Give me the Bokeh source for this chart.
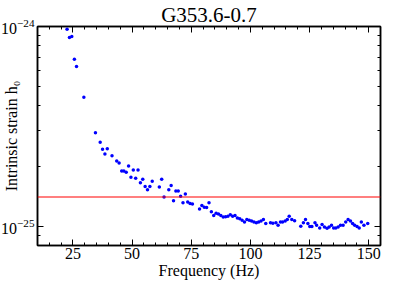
from bokeh.plotting import figure
from bokeh.models import (Span, LinearAxis, FixedTicker, SingleIntervalTicker,
                          LogTickFormatter, Range1d, CustomJSTickFormatter)
from bokeh.embed import file_html
from bokeh.resources import INLINE

title_text = "G353.6-0.7"
x_label = "Frequency (Hz)"
y_label = "Intrinsic strain h\u2080"

freq = [22.5, 23.5, 24.5, 25.6, 26.5, 29.6, 34.5, 36.5, 37.5, 38.5, 39.5, 41.5, 43.5, 44.5,
        45.6, 46.5, 47.5, 48.5, 49.5, 50.5, 51.5, 52.5, 53.5, 54.5, 55.5, 56.5, 57.5, 58.5,
        61.5, 62.5, 63.5, 65.5, 66.5, 67.5, 68.5, 69.5, 70.5, 71.5, 72.5, 73.5, 74.5, 75.5,
        78.5, 79.5, 80.5, 81.5, 82.5, 83.5, 84.5, 85.5, 86.5, 87.5, 88.5, 89.5, 90.5, 91.5,
        92.5, 93.5, 94.5, 95.5, 96.5, 97.5, 98.5, 99.5, 100.5, 101.5, 102.5, 103.5, 104.5,
        105.5, 106.5, 108.5, 109.5, 110.8, 111.7, 112.7, 113.6, 114.7, 115.6, 116.4, 117.5,
        118.7, 121.3, 122.4, 123.3, 124.3, 125.1, 126.0, 127.3, 128.0, 129.3, 130.3, 131.3,
        132.4, 133.3, 134.3, 135.2, 136.1, 137.1, 138.1, 139.2, 140.3, 141.3, 142.3, 143.2,
        144.1, 145.1, 146.0, 146.9, 148.0, 149.6]
strain_e25 = [9.7, 8.8, 8.9, 6.85, 6.3, 4.42, 2.94, 2.63, 2.43, 2.30, 2.44, 2.25, 2.12, 2.07,
              1.89, 1.89, 1.86, 2.00, 1.76, 1.91, 1.74, 1.91, 1.65, 1.72, 1.58, 1.52, 1.58, 1.68,
              1.57, 1.72, 1.40, 1.52, 1.60, 1.34, 1.50, 1.50, 1.41, 1.31, 1.45, 1.32, 1.30, 1.29,
              1.22, 1.27, 1.245, 1.24, 1.31, 1.18, 1.13, 1.16, 1.15, 1.13, 1.11, 1.115, 1.12, 1.14,
              1.12, 1.13, 1.10, 1.09, 1.07, 1.05, 1.08, 1.07, 1.06, 1.05, 1.04, 1.05, 1.06,
              1.08, 1.03, 1.04, 1.035, 1.04, 1.01, 1.05, 1.05, 1.06, 1.08, 1.12, 1.08,
              1.065, 1.00, 1.04, 1.08, 1.03, 0.995, 0.995, 1.04, 1.01, 0.98, 1.02, 0.99,
              0.975, 0.99, 1.01, 0.98, 0.98, 0.99, 1.01, 1.01, 1.05, 1.08, 1.06, 1.03,
              1.01, 0.995, 0.98, 1.05, 1.01, 1.03]
strain = [v * 1e-25 for v in strain_e25]
threshold = 1.4e-25

x_ticks_major = 25
y_major = [1e-25, 1e-24]
y_minor = [8e-26, 9e-26, 2e-25, 3e-25, 4e-25, 5e-25, 6e-25, 7e-25, 8e-25, 9e-25]

FONT = "Liberation Serif"

p = figure(width=383, height=281, output_backend="svg", toolbar_location=None,
           y_axis_type="log", x_range=Range1d(10, 155), y_range=Range1d(8e-26, 1e-24),
           min_border_left=34, min_border_right=3, min_border_top=0, min_border_bottom=0)
p.title.text = title_text
p.title.align = "center"
p.title.text_font = FONT
p.title.text_font_size = "21px"
p.title.text_font_style = "normal"
p.title.text_color = "black"
p.title.offset = 0
p.title.standoff = 0
p.xgrid.visible = False
p.ygrid.visible = False
p.outline_line_color = "black"
p.outline_line_width = 1.5

xt = SingleIntervalTicker(interval=x_ticks_major, num_minor_ticks=5)
yt = FixedTicker(ticks=y_major, minor_ticks=y_minor)

def style(ax):
    ax.axis_line_color = "black"
    ax.axis_line_width = 1.5
    ax.major_tick_in = 6
    ax.major_tick_out = 0
    ax.minor_tick_in = 3
    ax.minor_tick_out = 0
    ax.major_tick_line_color = "black"
    ax.minor_tick_line_color = "black"
    ax.major_label_text_font = FONT
    ax.major_label_text_font_size = "16px"
    ax.major_label_text_color = "black"
    ax.axis_label_text_font = FONT
    ax.axis_label_text_font_size = "16px"
    ax.axis_label_text_font_style = "normal"
    ax.axis_label_text_color = "black"

xa = p.xaxis[0]
xa.ticker = xt
xa.axis_label = x_label
xa.major_label_standoff = 2
xa.axis_label_standoff = 0
style(xa)

ya = p.yaxis[0]
ya.ticker = yt
ya.formatter = LogTickFormatter()
ya.axis_label = y_label
ya.major_label_standoff = 3
ya.axis_label_standoff = -22
style(ya)

blank = CustomJSTickFormatter(code="return ''")
top = LinearAxis(ticker=xt, formatter=blank, major_label_standoff=0)
style(top)
p.add_layout(top, "above")
right = LinearAxis(ticker=yt, formatter=blank, major_label_standoff=0)
style(right)
p.add_layout(right, "right")

p.scatter(freq, strain, size=3.5, color="#0000ff", line_color=None)
p.add_layout(Span(location=threshold, dimension="width", line_color="#ff0000", line_width=1.2))

open("out.html", "w").write(file_html(p, INLINE))
